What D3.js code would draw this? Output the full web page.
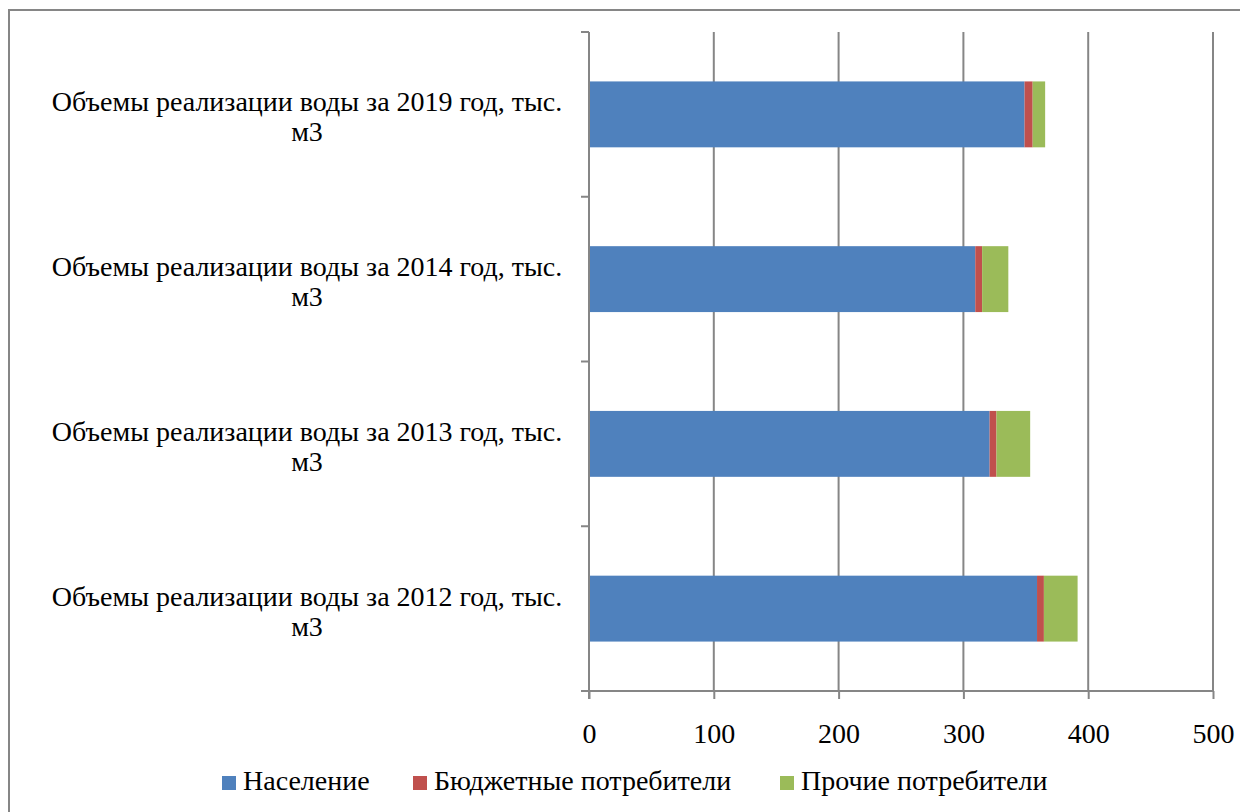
<!DOCTYPE html>
<html><head><meta charset="utf-8">
<script src="https://cdn.jsdelivr.net/npm/d3@7"></script>
<style>body{margin:0;background:#fff;}svg{display:block;} text{font-family:"Liberation Serif","Times New Roman",Times,serif;}</style>
</head><body>
<svg id="c" width="1240" height="812"></svg>
<script>
const categories = ["Объемы реализации воды за 2019 год, тыс. м3","Объемы реализации воды за 2014 год, тыс. м3","Объемы реализации воды за 2013 год, тыс. м3","Объемы реализации воды за 2012 год, тыс. м3"];
const seriesNames = ["Население","Бюджетные потребители","Прочие потребители"];
const naselenie = [349, 309.5, 321, 359];
const byudzhet = [6.5, 5.5, 5.5, 5.5];
const prochie = [10, 21, 27, 27];
const xTicks = [0,100,200,300,400,500];
const colors = ["#4F81BD","#C0504D","#9BBB59"];

const svg = d3.select("#c");
svg.append("rect").attr("x",9).attr("y",10).attr("width",1240).attr("height",820)
  .attr("fill","#fff").attr("stroke","#868686").attr("stroke-width",2);

const x = d3.scaleLinear().domain([0,500]).range([589,1213]);
const y = d3.scaleBand().domain(categories).range([32,691]).paddingInner(0.6).paddingOuter(0.3);
const yb = d3.scaleBand().domain(categories).range([32,691]);

// grid
svg.append("g").selectAll("line").data(xTicks.slice(1)).join("line")
  .attr("x1",d=>x(d)).attr("x2",d=>x(d)).attr("y1",32).attr("y2",691)
  .attr("stroke","#868686").attr("stroke-width",2);

const stackData = categories.map((c,i)=>({c, a:naselenie[i], b:byudzhet[i], p:prochie[i]}));
const stack = d3.stack().keys(["a","b","p"])(stackData);
svg.append("g").selectAll("g").data(stack).join("g").attr("fill",(d,i)=>colors[i])
  .selectAll("rect").data(d=>d).join("rect")
  .attr("x",d=>x(d[0])).attr("width",d=>x(d[1])-x(d[0]))
  .attr("y",d=>y(d.data.c)).attr("height",y.bandwidth());

// x axis
const xa = svg.append("g").attr("transform","translate(0,691)")
  .call(d3.axisBottom(x).tickValues(xTicks).tickSize(8).tickPadding(24).tickFormat(d3.format("d")));
xa.attr("font-family",null);
xa.select(".domain").attr("stroke","#868686").attr("stroke-width",2).attr("d","M589,0H1213");
xa.selectAll(".tick line").attr("stroke","#868686").attr("stroke-width",2);
xa.selectAll("text").style("font-size","28px").attr("fill","#000");

// y axis
svg.append("line").attr("x1",589).attr("x2",589).attr("y1",32).attr("y2",699)
  .attr("stroke","#868686").attr("stroke-width",2);
const yt = [...categories.map(c=>yb(c)), 691];
svg.append("g").selectAll("line").data(yt).join("line")
  .attr("x1",581).attr("x2",589).attr("y1",d=>d).attr("y2",d=>d)
  .attr("stroke","#868686").attr("stroke-width",2);

// category labels
const lab = svg.append("g").selectAll("text").data(categories).join("text")
  .style("font-size","28px").attr("text-anchor","middle").attr("fill","#000");
lab.each(function(d){
  const t=d3.select(this);
  const idx=d.lastIndexOf(" ");
  const c=yb(d)+yb.bandwidth()/2;
  t.append("tspan").attr("x",307).attr("y",c-3).text(d.slice(0,idx));
  t.append("tspan").attr("x",307).attr("y",c+27).text(d.slice(idx+1));
});

// legend
const legX = [222,413,780];
const lg = svg.append("g").selectAll("g").data(seriesNames).join("g")
  .attr("transform",(d,i)=>`translate(${legX[i]},776)`);
lg.append("rect").attr("width",14).attr("height",14).attr("fill",(d,i)=>colors[i]);
lg.append("text").attr("x",21).attr("y",14).style("font-size","28px").text(d=>d);
</script>
</body></html>
